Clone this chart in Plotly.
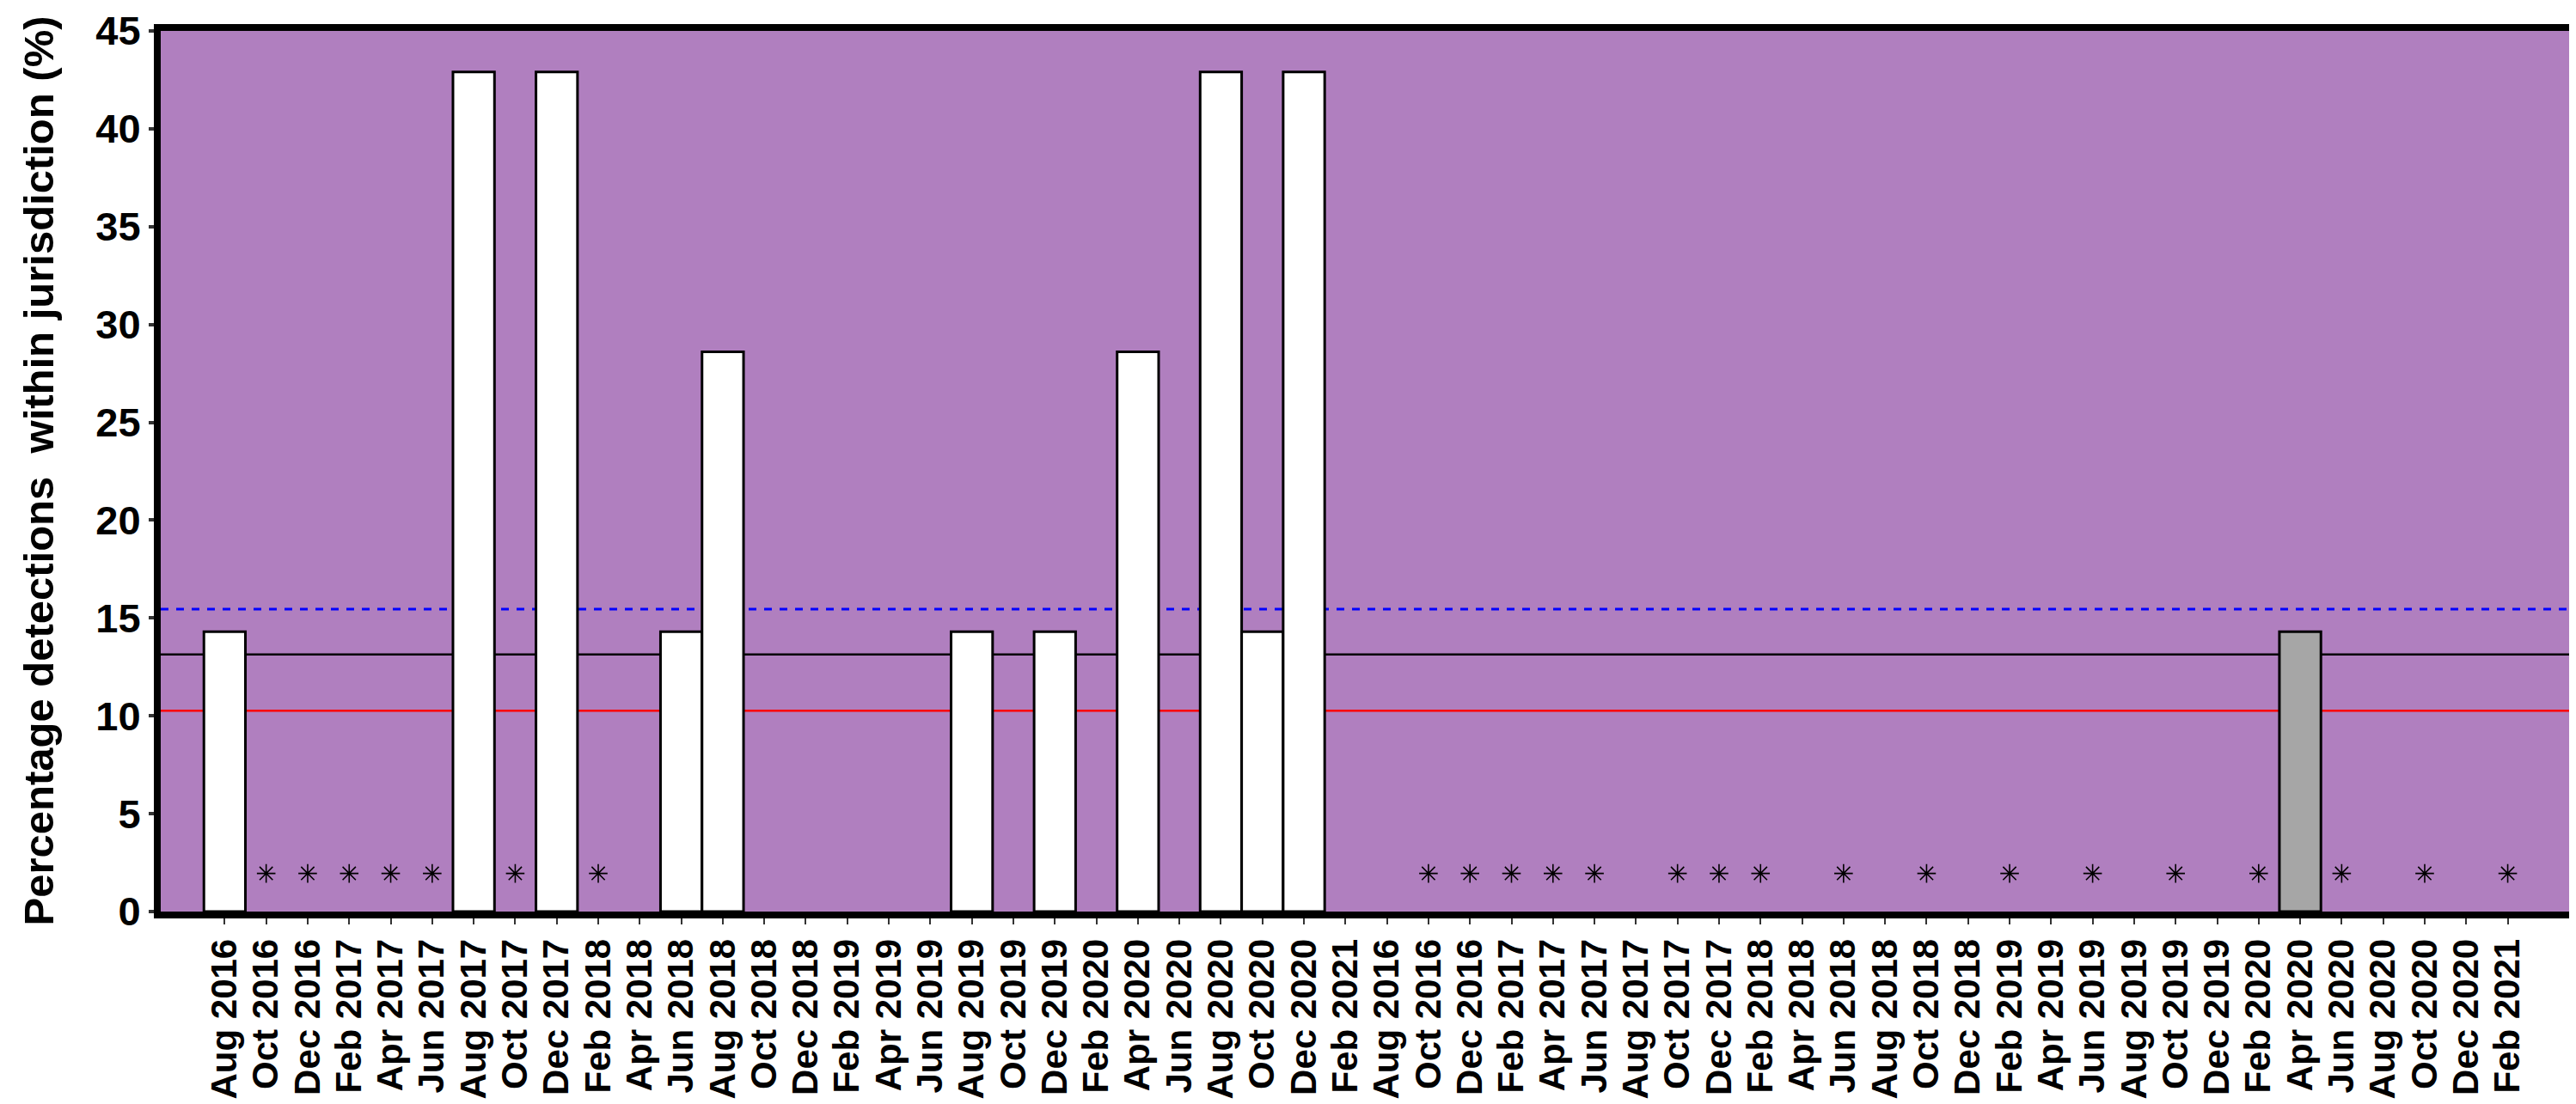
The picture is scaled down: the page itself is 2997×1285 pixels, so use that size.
import plotly.graph_objects as go

months = ["Aug 2016", "Oct 2016", "Dec 2016", "Feb 2017", "Apr 2017", "Jun 2017",
          "Aug 2017", "Oct 2017", "Dec 2017", "Feb 2018", "Apr 2018", "Jun 2018",
          "Aug 2018", "Oct 2018", "Dec 2018", "Feb 2019", "Apr 2019", "Jun 2019",
          "Aug 2019", "Oct 2019", "Dec 2019", "Feb 2020", "Apr 2020", "Jun 2020",
          "Aug 2020", "Oct 2020", "Dec 2020", "Feb 2021"]
tick_labels = months + months

# white bars (first period block)
white_values = [14.3, None, None, None, None, None, 42.9, None, 42.9, None, None, 14.3,
                28.6, None, None, None, None, None, 14.3, None, 14.3, None, 28.6, None,
                42.9, 14.3, 42.9, None] + [None] * 28
# grey bars (second block)
grey_values = [None] * 28 + [None] * 22 + [14.3] + [None] * 5
# asterisk markers (no data)
star_values = [None, 1.95, 1.95, 1.95, 1.95, 1.95, None, 1.95, None, 1.95, None, None,
               None, None, None, None, None, None, None, None, None, None, None, None,
               None, None, None, None,
               None, 1.95, 1.95, 1.95, 1.95, 1.95, None, 1.95, 1.95, 1.95, None, 1.95,
               None, 1.95, None, 1.95, None, 1.95, None, 1.95, None, 1.95, None, 1.95,
               None, 1.95, None, 1.95]

ref_blue = 15.45
ref_black = 13.14
ref_red = 10.26

y_title = "Percentage detections\u00a0 within jurisdiction (%)"

x_pos = list(range(len(tick_labels)))

fig = go.Figure()
fig.add_trace(go.Bar(x=x_pos, y=white_values, width=1,
                     marker=dict(color="white", line=dict(color="black", width=3)),
                     showlegend=False))
fig.add_trace(go.Bar(x=x_pos, y=grey_values, width=1,
                     marker=dict(color="#A6A6A6", line=dict(color="black", width=3)),
                     showlegend=False))
fig.add_trace(go.Scatter(x=x_pos, y=star_values, mode="markers",
                         marker=dict(symbol="asterisk-open", size=18, color="black",
                                     line=dict(color="black", width=1.6)),
                         showlegend=False))

for yv, col, dash, w in [(ref_blue, "#0000FF", "dash", 3),
                         (ref_black, "black", "solid", 2.5),
                         (ref_red, "#FF0000", "solid", 2.5)]:
    fig.add_shape(type="line", xref="paper", yref="y", x0=0, x1=1, y0=yv, y1=yv,
                  line=dict(color=col, width=w, dash=dash), layer="below")

fig.add_annotation(text=y_title, xref="paper", yref="paper", x=-0.051, y=0.5,
                   xanchor="center", yanchor="middle", textangle=-90, showarrow=False,
                   font=dict(size=49, weight="bold", color="black",
                             family="Liberation Sans, Arial, sans-serif"))

fig.update_layout(
    width=2997, height=1285,
    margin=dict(l=179, r=15, t=28, b=232),
    paper_bgcolor="white",
    plot_bgcolor="#B07FBF",
    barmode="overlay",
    font=dict(family="Liberation Sans, Arial, sans-serif", color="black"),
)
fig.update_xaxes(
    range=[-1.54, 56.5], automargin=False,
    tickmode="array", tickvals=x_pos, ticktext=tick_labels,
    tickangle=-90,
    tickfont=dict(size=42, weight="bold", family="Liberation Sans, Arial, sans-serif"),
    ticks="outside", ticklen=7, tickwidth=2, tickcolor="#333333",
    showline=True, linecolor="black", linewidth=8, mirror=True,
    showgrid=False, zeroline=False,
)
fig.update_yaxes(
    range=[0, 45.001], tickvals=[0, 5, 10, 15, 20, 25, 30, 35, 40, 45],
    automargin=False, ticklabeloverflow="allow",
    tickfont=dict(size=47, weight="bold", family="Liberation Sans, Arial, sans-serif"),
    ticks="outside", ticklen=6, tickwidth=4, tickcolor="#333333",
    showline=True, linecolor="black", linewidth=8, mirror=True,
    showgrid=False, zeroline=False,
)

fig.write_html("out.html")
